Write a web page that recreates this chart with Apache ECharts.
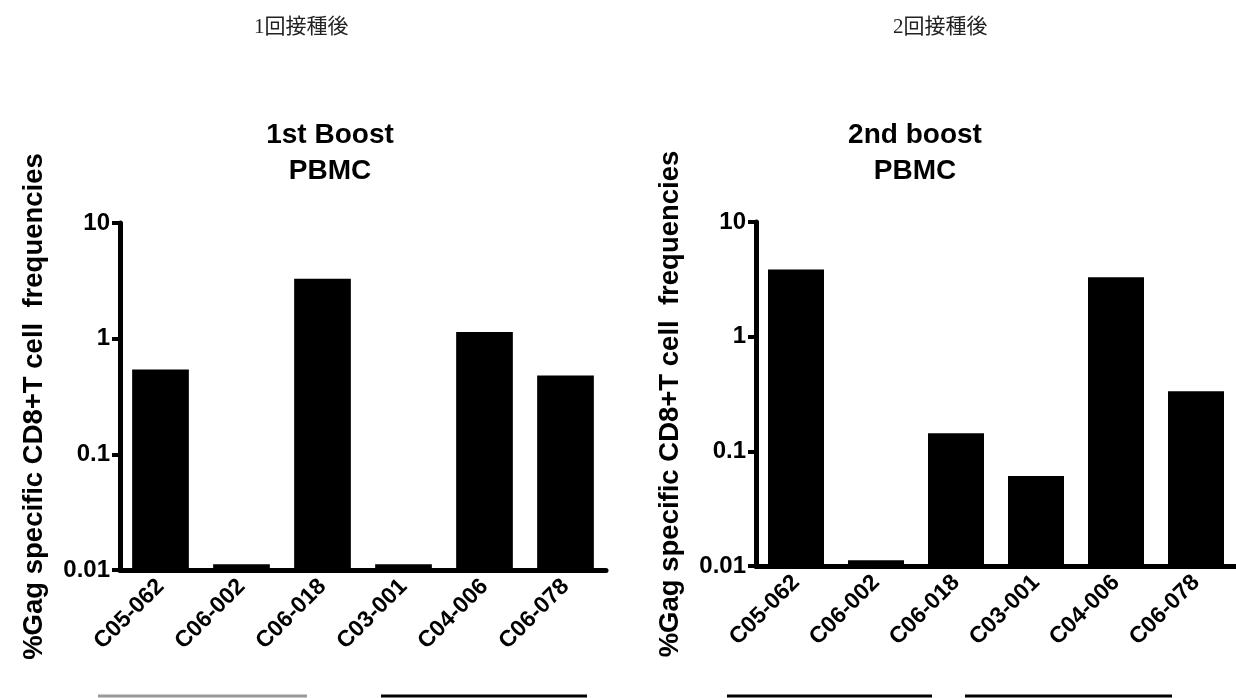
<!DOCTYPE html>
<html>
<head>
<meta charset="utf-8">
<script src="https://cdn.jsdelivr.net/npm/echarts@6/dist/echarts.min.js"></script>
<style>html,body{margin:0;padding:0;background:#fff;}#c{width:1236px;height:698px;}</style>
</head>
<body>
<div id="c"></div>
<script>
const categories = ['C05-062', 'C06-002', 'C06-018', 'C03-001', 'C04-006', 'C06-078'];
const firstBoost = [0.54, 0.0112, 3.3, 0.0112, 1.14, 0.48];
const secondBoost = [3.85, 0.0112, 0.144, 0.061, 3.3, 0.335];
const yTickValues = [0.01, 0.1, 1, 10];
const panelTitles = ['1st Boost\nPBMC', '2nd boost\nPBMC'];
const headerLabels = ['1回接種後', '2回接種後'];
const yAxisTitle = '%Gag specific CD8+T cell  frequencies';

const yMin = yTickValues[0], yMax = yTickValues[yTickValues.length - 1];
const FONT = '"Liberation Sans", Arial, sans-serif';

function renderBar(params, api) {
  const idx = api.value(0), v = api.value(1);
  const top = api.coord([idx, v]);
  const base = api.coord([idx, yMin]);
  const w = api.size([1, 1])[0] * 0.7;
  return { type: 'rect', shape: { x: top[0] - w / 2, y: top[1], width: w, height: base[1] - top[1] }, style: { fill: '#000' } };
}

function xAxisCfg(gi) {
  return {
    type: 'category', gridIndex: gi, data: categories, boundaryGap: true,
    axisLine: { lineStyle: { color: '#000', width: 5 } },
    axisTick: { alignWithLabel: true, length: 9, lineStyle: { color: '#000', width: 4 } },
    axisLabel: { rotate: 45, margin: 13, color: '#000', fontFamily: FONT, fontWeight: 'bold', fontSize: 23 },
    splitLine: { show: false }
  };
}
function yAxisCfg(gi) {
  return {
    type: 'log', logBase: 10, gridIndex: gi, min: yMin, max: yMax,
    name: yAxisTitle, nameLocation: 'middle', nameRotate: 90, nameGap: 72,
    nameTextStyle: { color: '#000', fontFamily: FONT, fontWeight: 'bold', fontSize: 27.5, padding: [0, 20, 0, 0] },
    axisLine: { show: true, lineStyle: { color: '#000', width: 5 } },
    axisTick: { show: true, length: 8, lineStyle: { color: '#000', width: 4 } },
    minorTick: { show: false },
    axisLabel: { margin: 10, color: '#000', fontFamily: FONT, fontWeight: 'bold', fontSize: 24,
      formatter: v => String(Number(Number(v).toPrecision(2))) },
    splitLine: { show: false }
  };
}

const chart = echarts.init(document.getElementById('c'), null, { renderer: 'canvas' });
chart.setOption({
  backgroundColor: '#fff',
  animation: false,
  title: [
    { text: panelTitles[0], left: 325, top: 112, textAlign: 'center',
      textStyle: { color: '#000', fontFamily: FONT, fontWeight: 'bold', fontSize: 28, lineHeight: 36 } },
    { text: panelTitles[1], left: 910, top: 112, textAlign: 'center',
      textStyle: { color: '#000', fontFamily: FONT, fontWeight: 'bold', fontSize: 28, lineHeight: 36 } }
  ],
  grid: [
    { left: 120, top: 223, width: 486, height: 347, containLabel: false },
    { left: 756, top: 222, width: 486, height: 344, containLabel: false }
  ],
  xAxis: [xAxisCfg(0), xAxisCfg(1)],
  yAxis: [yAxisCfg(0), yAxisCfg(1)],
  series: [
    { type: 'custom', xAxisIndex: 0, yAxisIndex: 0, renderItem: renderBar,
      encode: { x: 0, y: 1 }, data: firstBoost.map((v, i) => [i, v]) },
    { type: 'custom', xAxisIndex: 1, yAxisIndex: 1, renderItem: renderBar,
      encode: { x: 0, y: 1 }, data: secondBoost.map((v, i) => [i, v]) }
  ],
  graphic: [
    { type: 'text', left: 254, top: 17, style: { text: headerLabels[0], fill: '#222', font: '21px "Liberation Serif", "Noto Sans CJK JP", serif' } },
    { type: 'text', left: 893, top: 17, style: { text: headerLabels[1], fill: '#222', font: '21px "Liberation Serif", "Noto Sans CJK JP", serif' } },
    { type: 'line', shape: { x1: 98, y1: 696, x2: 307, y2: 696 }, style: { stroke: '#999', lineWidth: 3 } },
    { type: 'line', shape: { x1: 381, y1: 696, x2: 587, y2: 696 }, style: { stroke: '#000', lineWidth: 3 } },
    { type: 'line', shape: { x1: 727, y1: 696, x2: 932, y2: 696 }, style: { stroke: '#000', lineWidth: 3 } },
    { type: 'line', shape: { x1: 965, y1: 696, x2: 1172, y2: 696 }, style: { stroke: '#000', lineWidth: 3 } }
  ]
});
</script>
</body>
</html>
